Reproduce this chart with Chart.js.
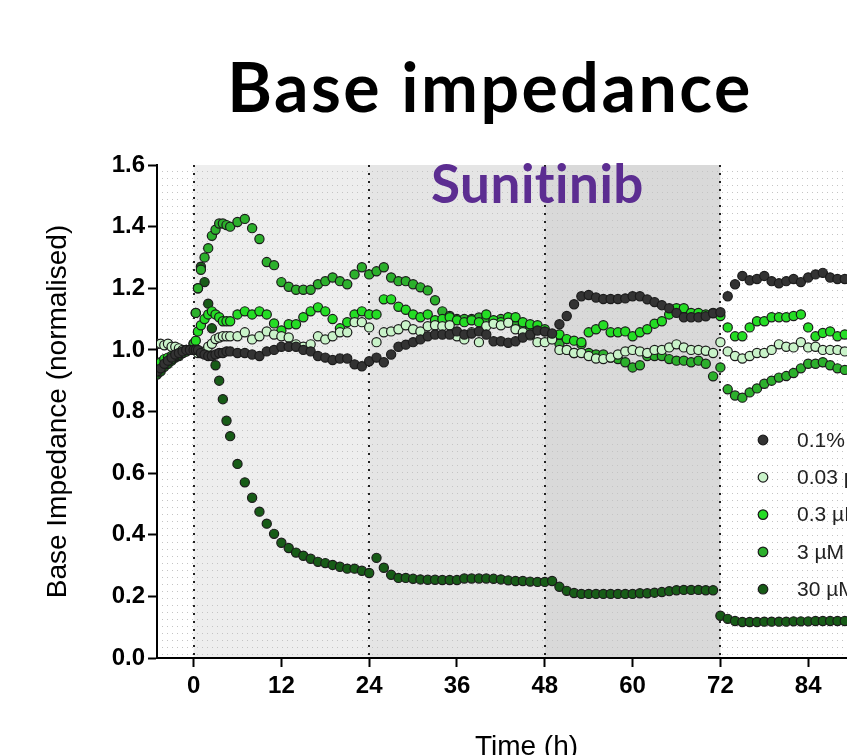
<!DOCTYPE html>
<html lang="en">

<head>
    <meta charset="UTF-8" />
    <title>Base impedance - Sunitinib</title>
    <script src="https://cdn.jsdelivr.net/npm/chart.js"></script>
    <style>
        html,
        body {
            margin: 0;
            padding: 0;
            background: #ffffff;
            overflow: hidden;
        }

        #wrap {
            position: absolute;
            left: 0;
            top: 0;
            width: 920px;
            height: 764px;
        }
    </style>
</head>

<body>
    <div id="wrap">
        <canvas id="impedanceChart"></canvas>
    </div>

    <script>
        // sampling times (h), denser right after dosing
        const hours = [-5, -4.5, -4, -3.5, -3, -2.5, -2, -1.5, -1, -0.5,
            0, 0.3, 0.6, 1, 1.5, 2, 2.5, 3, 3.5, 4, 4.5, 5,
            6, 7, 8, 9, 10, 11, 12, 13, 14, 15, 16, 17,
            18, 19, 20, 21, 22, 23, 24, 25, 26, 27, 28, 29,
            30, 31, 32, 33, 34, 35, 36, 37, 38, 39, 40, 41,
            42, 43, 44, 45, 46, 47, 48, 49, 50, 51, 52, 53,
            54, 55, 56, 57, 58, 59, 60, 61, 62, 63, 64, 65,
            66, 67, 68, 69, 70, 71, 72, 73, 74, 75, 76, 77,
            78, 79, 80, 81, 82, 83, 84, 85, 86, 87, 88, 89];

        const seriesLabels = ['0.1% DMSO', '0.03 µM', '0.3 µM', '3 µM', '30 µM'];

        const dmso = [0.93, 0.94, 0.955, 0.965, 0.975, 0.985, 0.99, 0.995, 1.0, 1.0,
            1.0, 1.0, 1.0, 0.99, 0.985, 0.98, 0.98, 0.985, 0.99, 0.99, 0.995, 0.995,
            0.99, 0.99, 0.985, 0.98, 0.995, 1.0, 1.01, 1.01, 1.01, 1.0, 0.995, 0.98,
            0.975, 0.967, 0.972, 0.972, 0.953, 0.947, 0.963, 0.975, 0.96, 0.985, 1.01, 1.017,
            1.025, 1.034, 1.044, 1.05, 1.05, 1.05, 1.06, 1.05, 1.053, 1.06, 1.05, 1.028,
            1.028, 1.023, 1.028, 1.04, 1.05, 1.063, 1.06, 1.053, 1.083, 1.11, 1.148, 1.174,
            1.178, 1.17, 1.165, 1.165, 1.165, 1.167, 1.174, 1.174, 1.164, 1.155, 1.145, 1.135,
            1.12, 1.106, 1.106, 1.106, 1.109, 1.119, 1.122, 1.174, 1.213, 1.24, 1.226, 1.23,
            1.24, 1.223, 1.216, 1.223, 1.23, 1.22, 1.235, 1.245, 1.25, 1.235, 1.23, 1.23];

        const suni003 = [1.02, 1.02, 1.015, 1.02, 1.01, 1.01, 1.005, 1.0, 1.0, 1.0,
            1.0, 1.0, 0.99, 0.99, 0.995, 1.01, 1.02, 1.035, 1.04, 1.044, 1.044, 1.044,
            1.044, 1.057, 1.034, 1.044, 1.06, 1.05, 1.044, 1.04, 1.018, 1.01, 1.018, 1.044,
            1.034, 1.044, 1.057, 1.057, 1.09, 1.09, 1.073, 1.025, 1.057, 1.06, 1.067, 1.08,
            1.067, 1.06, 1.077, 1.08, 1.077, 1.08, 1.044, 1.034, 1.057, 1.025, 1.077, 1.085,
            1.08, 1.088, 1.067, 1.057, 1.047, 1.025, 1.025, 1.034, 1.0, 1.0, 0.99, 0.99,
            0.98, 0.972, 0.97, 0.975, 0.985, 0.995, 1.0, 0.995, 0.99, 1.0, 1.0, 1.008,
            1.018, 1.008, 1.0, 1.0, 0.997, 0.99, 1.025, 0.995, 0.98, 0.972, 0.98, 0.99,
            0.99, 1.0, 1.018, 1.01, 1.008, 1.025, 1.008, 1.01, 1.0, 1.0, 1.0, 0.995];

        const suni03 = [0.95, 0.96, 0.97, 0.975, 0.98, 0.985, 0.99, 0.995, 1.0, 1.0,
            1.0, 1.03, 1.06, 1.08, 1.1, 1.115, 1.125, 1.115, 1.106, 1.093, 1.093, 1.093,
            1.115, 1.125, 1.115, 1.125, 1.115, 1.086, 1.063, 1.083, 1.083, 1.106, 1.125, 1.138,
            1.125, 1.1, 1.07, 1.09, 1.115, 1.125, 1.115, 1.115, 1.164, 1.164, 1.14, 1.13,
            1.115, 1.106, 1.115, 1.096, 1.1, 1.106, 1.096, 1.09, 1.096, 1.09, 1.115, 1.096,
            1.09, 1.106, 1.106, 1.09, 1.083, 1.08, 1.067, 1.05, 1.05, 1.035, 1.03, 1.025,
            1.057, 1.067, 1.08, 1.057, 1.057, 1.06, 1.044, 1.057, 1.067, 1.085, 1.093, 1.115,
            1.135, 1.135, 1.12, 1.12, 1.115, 1.12, 1.11, 1.073, 1.044, 1.044, 1.073, 1.093,
            1.093, 1.106, 1.106, 1.106, 1.11, 1.115, 1.073, 1.044, 1.055, 1.06, 1.044, 1.05];

        const suni3 = [0.94, 0.95, 0.96, 0.97, 0.97, 0.98, 0.985, 0.99, 0.995, 1.0,
            1.02, 1.12, 1.2, 1.26, 1.3, 1.33, 1.37, 1.39, 1.41, 1.41, 1.405, 1.4,
            1.415, 1.425, 1.395, 1.36, 1.285, 1.275, 1.22, 1.205, 1.195, 1.195, 1.195, 1.213,
            1.223, 1.235, 1.223, 1.213, 1.245, 1.268, 1.245, 1.255, 1.268, 1.235, 1.223, 1.223,
            1.213, 1.203, 1.193, 1.161, 1.125, 1.11, 1.1, 1.1, 1.1, 1.105, 1.1, 1.095,
            1.1, 1.095, 1.09, 1.08, 1.075, 1.07, 1.06, 1.035, 1.02, 1.0, 0.99, 1.018,
            0.99, 0.985, 0.985, 0.975, 0.97, 0.96, 0.943, 0.95, 0.98, 0.98, 0.98, 0.97,
            0.965, 0.965, 0.96, 0.965, 0.955, 0.914, 0.943, 0.872, 0.852, 0.845, 0.862, 0.875,
            0.89, 0.9, 0.91, 0.915, 0.925, 0.94, 0.955, 0.955, 0.96, 0.95, 0.94, 0.935];

        const suni30 = [0.92, 0.93, 0.945, 0.955, 0.965, 0.975, 0.98, 0.99, 0.995, 1.0,
            1.02, 1.12, 1.2, 1.27, 1.22, 1.15, 1.07, 0.95, 0.9, 0.84, 0.77, 0.72,
            0.63, 0.57, 0.52, 0.475, 0.436, 0.403, 0.374, 0.357, 0.342, 0.332, 0.322, 0.312,
            0.308, 0.302, 0.296, 0.29, 0.29, 0.283, 0.276, 0.325, 0.293, 0.27, 0.26, 0.26,
            0.257, 0.255, 0.254, 0.254, 0.253, 0.253, 0.253, 0.258, 0.258, 0.258, 0.258, 0.257,
            0.255, 0.252, 0.25, 0.25, 0.248, 0.247, 0.247, 0.25, 0.231, 0.218, 0.211, 0.208,
            0.208, 0.208, 0.208, 0.208, 0.208, 0.208, 0.208, 0.21, 0.21, 0.212, 0.214, 0.217,
            0.22, 0.221, 0.221, 0.221, 0.22, 0.22, 0.137, 0.127, 0.12, 0.117, 0.117, 0.117,
            0.118, 0.118, 0.118, 0.118, 0.119, 0.119, 0.119, 0.12, 0.12, 0.12, 0.12, 0.12];

        const xTicks = [0, 12, 24, 36, 48, 60, 72, 84, 96];
        const yTicks = [0, 0.2, 0.4, 0.6, 0.8, 1.0, 1.2, 1.4, 1.6];
        const doseTimes = [0, 24, 48, 72];

        const seriesValues = [dmso, suni003, suni03, suni3, suni30];
        const seriesColors = ['#333333', '#c9f3c9', '#24dd24', '#2cb02c', '#175c17'];
        const bandColors = ['#eeeeee', '#e5e5e5', '#d9d9d9'];

        // light dotted texture like the original plot background
        const tile = document.createElement('canvas');
        tile.width = 5;
        tile.height = 7;
        const tctx = tile.getContext('2d');
        tctx.fillStyle = '#c4c4c4';
        tctx.fillRect(2, 3, 1, 1);

        const backdrop = {
            id: 'backdrop',
            beforeDraw(chart) {
                const { ctx, chartArea: a, scales: { x } } = chart;
                ctx.save();
                ctx.beginPath();
                ctx.rect(a.left, a.top, a.width, a.height);
                ctx.clip();
                bandColors.forEach((c, i) => {
                    const x0 = x.getPixelForValue(doseTimes[i]);
                    const x1 = x.getPixelForValue(doseTimes[i + 1]);
                    ctx.fillStyle = c;
                    ctx.fillRect(x0, a.top, x1 - x0, a.height);
                });
                ctx.fillStyle = ctx.createPattern(tile, 'repeat');
                ctx.fillRect(a.left, a.top, a.width, a.height);
                ctx.setLineDash([2, 6]);
                ctx.lineWidth = 2;
                ctx.strokeStyle = '#222222';
                doseTimes.forEach(t => {
                    const px = Math.round(x.getPixelForValue(t));
                    ctx.beginPath();
                    ctx.moveTo(px, a.top);
                    ctx.lineTo(px, a.bottom);
                    ctx.stroke();
                });
                ctx.restore();
            },
            afterDraw(chart) {
                const { ctx, chartArea: a, scales: { x } } = chart;
                ctx.save();
                // main title
                ctx.fillStyle = '#000000';
                ctx.font = 'bold 68px Lato';
                ctx.letterSpacing = '2.5px';
                ctx.textAlign = 'center';
                ctx.textBaseline = 'alphabetic';
                ctx.fillText('Base impedance', 490, 112);
                // drug name (small spacing also breaks the "ti" ligature)
                ctx.letterSpacing = '0.5px';
                ctx.fillStyle = '#5c2d91';
                ctx.font = 'bold 53px Lato';
                ctx.fillText('Sunitinib', x.getPixelForValue(47), a.top + 38);
                // legend
                ctx.letterSpacing = '0px';
                ctx.textAlign = 'left';
                ctx.textBaseline = 'middle';
                ctx.font = '21px "Liberation Sans", Arial';
                seriesLabels.forEach((lab, i) => {
                    const ly = a.top + 275 + i * 37.3;
                    const lx = a.left + 606;
                    ctx.beginPath();
                    ctx.arc(lx, ly, 4.8, 0, Math.PI * 2);
                    ctx.fillStyle = seriesColors[i];
                    ctx.fill();
                    ctx.lineWidth = 1.2;
                    ctx.strokeStyle = '#1b1b1b';
                    ctx.stroke();
                    ctx.fillStyle = '#222222';
                    ctx.fillText(lab, lx + 34, ly + 1);
                });
                ctx.restore();
            }
        };

        const datasets = seriesValues.map((vals, i) => ({
            label: seriesLabels[i],
            data: hours.map((h, j) => ({ x: h, y: vals[j] })).filter(p => p.y !== null),
            backgroundColor: seriesColors[i],
            borderColor: '#1b1b1b',
            borderWidth: 1.2,
            pointRadius: 4.6,
            pointHoverRadius: 4.6
        }));

        const tickFont = { family: '"Liberation Sans", Arial, sans-serif', size: 24, weight: 'bold' };
        const titleFont = { family: '"Liberation Sans", Arial, sans-serif', size: 28, weight: 'normal' };

        new Chart(document.getElementById('impedanceChart'), {
            type: 'scatter',
            data: { datasets: datasets },
            options: {
                responsive: true,
                maintainAspectRatio: false,
                animation: false,
                devicePixelRatio: 1,
                layout: { padding: { top: 165, right: 24, bottom: 0, left: 0 } },
                plugins: {
                    legend: { display: false },
                    tooltip: { enabled: false }
                },
                scales: {
                    x: {
                        type: 'linear',
                        min: -5,
                        max: 96,
                        afterBuildTicks: s => { s.ticks = xTicks.map(v => ({ value: v })); },
                        afterFit: s => { s.height = 106; },
                        ticks: { font: tickFont, color: '#000000', padding: 5, maxRotation: 0, autoSkip: false },
                        grid: { drawOnChartArea: false, tickLength: 9, tickWidth: 2, tickColor: '#000000' },
                        border: { color: '#000000', width: 2 },
                        title: { display: true, text: 'Time (h)', font: titleFont, color: '#000000', padding: { top: 0, bottom: 0 } }
                    },
                    y: {
                        min: 0,
                        max: 1.6,
                        afterBuildTicks: s => { s.ticks = yTicks.map(v => ({ value: v })); },
                        afterFit: s => { s.width = 157; },
                        ticks: { font: tickFont, color: '#000000', padding: 3, callback: v => v.toFixed(1) },
                        grid: { drawOnChartArea: false, tickLength: 9, tickWidth: 2, tickColor: '#000000' },
                        border: { color: '#000000', width: 2 },
                        title: { display: true, text: 'Base Impedance (normalised)', font: titleFont, color: '#000000', padding: { top: 41, bottom: 0 } }
                    }
                }
            },
            plugins: [backdrop]
        });
    </script>
</body>

</html>
